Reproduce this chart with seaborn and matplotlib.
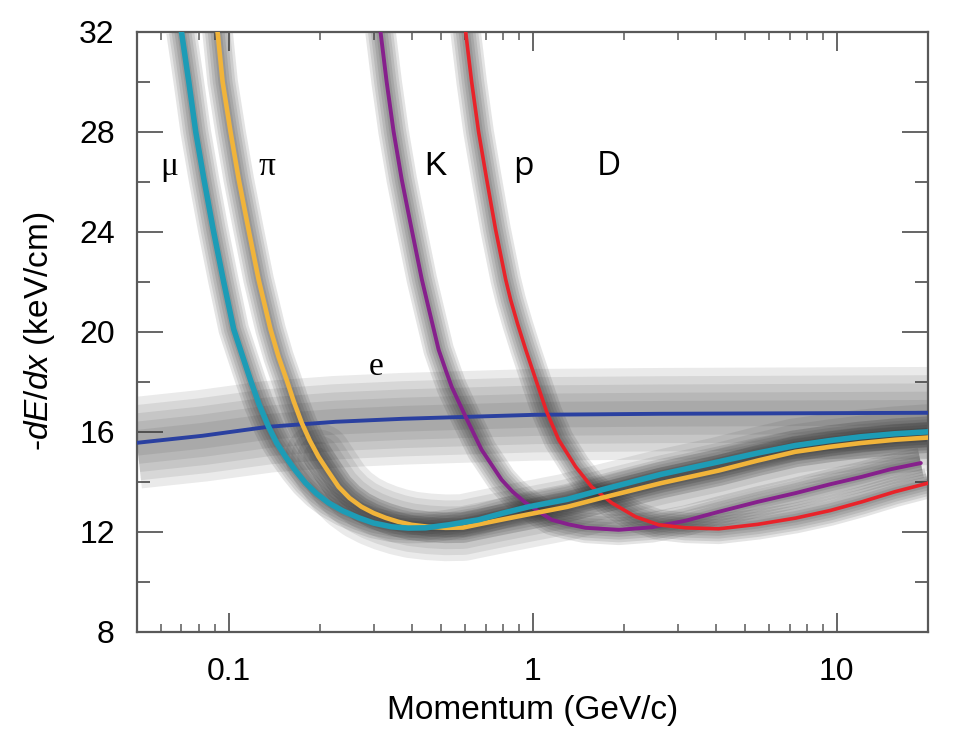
import pandas as pd
import matplotlib.pyplot as plt
import seaborn as sns
from matplotlib.ticker import FixedLocator, FixedFormatter, LogLocator, NullFormatter, MultipleLocator

# momentum (GeV/c) and -dE/dx (keV/cm)
mu_p = [0.070, 0.074, 0.078, 0.083, 0.089, 0.096, 0.104, 0.110, 0.118, 0.126, 0.1354,
        0.144, 0.154, 0.166, 0.179, 0.195, 0.213, 0.238, 0.268, 0.30, 0.344, 0.39,
        0.445, 0.53, 0.664, 0.80, 0.97, 1.3, 1.69, 2.65, 4.09, 5.5, 7.3, 9.5, 12.0,
        15.5, 20.0]
mu_dedx = [32.0, 30.0, 28.0, 26.1, 24.1, 22.1, 20.1, 19.2, 18.08, 17.1, 16.2,
           15.55, 15.0, 14.45, 13.96, 13.52, 13.16, 12.83, 12.56, 12.35, 12.2, 12.15,
           12.16, 12.28, 12.48, 12.75, 13.0, 13.3, 13.68, 14.3, 14.8, 15.15, 15.45,
           15.65, 15.8, 15.92, 16.0]

pi_p = [0.092, 0.0956, 0.1015, 0.108, 0.1163, 0.1255, 0.1374, 0.146, 0.1552, 0.164,
        0.174, 0.185, 0.1977, 0.213, 0.2301, 0.25, 0.2738, 0.30, 0.3285, 0.362, 0.40,
        0.455, 0.5175, 0.59, 0.664, 0.80, 0.97, 1.3, 1.69, 2.65, 4.09, 5.5, 7.3, 9.5,
        12.0, 15.5, 20.0]
pi_dedx = [32.0, 30.0, 28.0, 26.1, 24.1, 22.1, 20.1, 19.0, 18.08, 17.2,
           16.36, 15.65, 15.0, 14.4, 13.8, 13.35, 13.0, 12.75, 12.56, 12.4, 12.28,
           12.2, 12.16, 12.17, 12.3, 12.5, 12.7, 13.0, 13.36, 13.95, 14.45, 14.85, 15.2,
           15.4, 15.55, 15.68, 15.77]

k_p = [0.316, 0.331, 0.349, 0.371, 0.400, 0.432, 0.458, 0.4908, 0.52, 0.5417, 0.602,
       0.6796, 0.7907, 0.86, 0.948, 1.05, 1.155, 1.31, 1.494, 1.918, 2.46, 3.2, 4.09,
       5.5, 7.33, 9.5, 12.1, 15.0, 18.9]
k_dedx = [32.0, 30.0, 28.0, 26.1, 24.1, 22.1, 20.8, 19.28, 18.4, 17.8, 16.6,
          15.28, 14.08, 13.6, 13.16, 12.8, 12.48, 12.3, 12.16, 12.08, 12.18, 12.45, 12.8,
          13.2, 13.55, 13.9, 14.2, 14.5, 14.75]

p_p = [0.602, 0.63, 0.664, 0.706, 0.755, 0.815, 0.8464, 0.893, 0.948, 1.023, 1.112,
       1.218, 1.385, 1.563, 1.819, 2.182, 2.597, 3.187, 4.09, 5.5, 7.33, 9.5, 12.1,
       15.5, 20.0]
p_dedx = [32.0, 30.0, 28.0, 26.1, 24.1, 22.1, 21.28, 20.3, 19.3, 18.1, 16.8,
          15.68, 14.6, 13.8, 13.16, 12.6, 12.28, 12.16, 12.12, 12.3, 12.55, 12.85, 13.2,
          13.6, 13.95]

e_p = [0.05, 0.082, 0.135, 0.225, 0.374, 0.616, 1.02, 2.66, 7.3, 20.0]
e_dedx = [15.56, 15.84, 16.2, 16.4, 16.52, 16.6, 16.68, 16.72, 16.74, 16.76]

labels = ["\u03bc", "\u03c0", "K", "p", "D", "e"]
label_p = [0.064, 0.134, 0.48, 0.93, 1.78, 0.305]
label_dedx = [26.6, 26.6, 26.6, 26.6, 26.6, 18.6]

curves = {
    "e": (e_p, e_dedx, "#2a40a0", 2.8),
    "K": (k_p, k_dedx, "#86208c", 2.8),
    "p": (p_p, p_dedx, "#e8232a", 2.6),
    "pi": (pi_p, pi_dedx, "#f1b43a", 3.3),
    "mu": (mu_p, mu_dedx, "#1d9cb6", 4.0),
}

sns.set_style("ticks")
plt.rcParams["font.family"] = ["Liberation Sans", "DejaVu Sans"]
plt.rcParams["mathtext.fontset"] = "custom"
plt.rcParams["mathtext.rm"] = "Liberation Sans"
plt.rcParams["mathtext.it"] = "Liberation Sans:italic"
plt.rcParams["text.color"] = "black"
plt.rcParams["axes.labelcolor"] = "black"
plt.rcParams["xtick.labelcolor"] = "black"
plt.rcParams["ytick.labelcolor"] = "black"

fig = plt.figure(figsize=(9.58, 7.54), dpi=100)
ax = fig.add_axes([0.143, 0.162, 0.826, 0.796])
ax.set_xscale("log")


def band(xs, ys, width, alpha, cap="butt"):
    # soft grey track band: stacked translucent strokes, darker in the middle
    for f in (1.0, 0.82, 0.64, 0.46, 0.28):
        sns.lineplot(x=xs, y=ys, ax=ax, color="0.2", lw=width * f, alpha=alpha,
                     sort=False, estimator=None, solid_capstyle=cap,
                     solid_joinstyle="round", zorder=1)


band(e_p, e_dedx, 66, 0.1)
band(pi_p[12:], pi_dedx[12:], 48, 0.1, cap="round")
for name in ["mu", "pi", "K", "p"]:
    xs, ys, col, lw = curves[name]
    band(xs, ys, 22, 0.13)

# fitted curves
for name, (xs, ys, col, lw) in curves.items():
    sns.lineplot(x=xs, y=ys, ax=ax, color=col, lw=lw, sort=False,
                 estimator=None, solid_joinstyle="round", zorder=3)

fonts = [["Liberation Serif"], ["Liberation Serif"], ["Liberation Sans"],
         ["Open Sans"], ["Open Sans"], ["Liberation Serif"]]
for t, x, y, f in zip(labels, label_p, label_dedx, fonts):
    ax.text(x, y, t, fontsize=24, family=f, ha="center", va="center", zorder=4)

ax.set_xlim(0.05, 20)
ax.set_ylim(8, 32)
ax.xaxis.set_major_locator(FixedLocator([0.1, 1, 10]))
ax.xaxis.set_major_formatter(FixedFormatter(["0.1", "1", "10"]))
ax.xaxis.set_minor_locator(LogLocator(base=10, subs=range(2, 10)))
ax.xaxis.set_minor_formatter(NullFormatter())
ax.yaxis.set_major_locator(MultipleLocator(4))
ax.yaxis.set_minor_locator(MultipleLocator(2))

ax.tick_params(axis="y", which="major", direction="in", length=19, width=1.3,
               left=True, right=True, labelsize=23, pad=16, color="0.35")
ax.tick_params(axis="y", which="minor", direction="in", length=9.5, width=1.3,
               left=True, right=True, color="0.35")
ax.tick_params(axis="x", which="major", direction="in", length=14, width=1.3,
               bottom=True, top=True, labelsize=23, pad=18, color="0.35")
ax.tick_params(axis="x", which="minor", direction="in", length=6, width=1.1,
               bottom=True, top=True, color="0.35")
for s in ax.spines.values():
    s.set_color("0.35")
    s.set_linewidth(1.6)

ax.set_xlabel("Momentum (GeV/c)", fontsize=24, labelpad=6)
ax.set_ylabel("-$dE$/$dx$ (keV/cm)", fontsize=24, labelpad=16)

fig.savefig("out.png", dpi=100)
